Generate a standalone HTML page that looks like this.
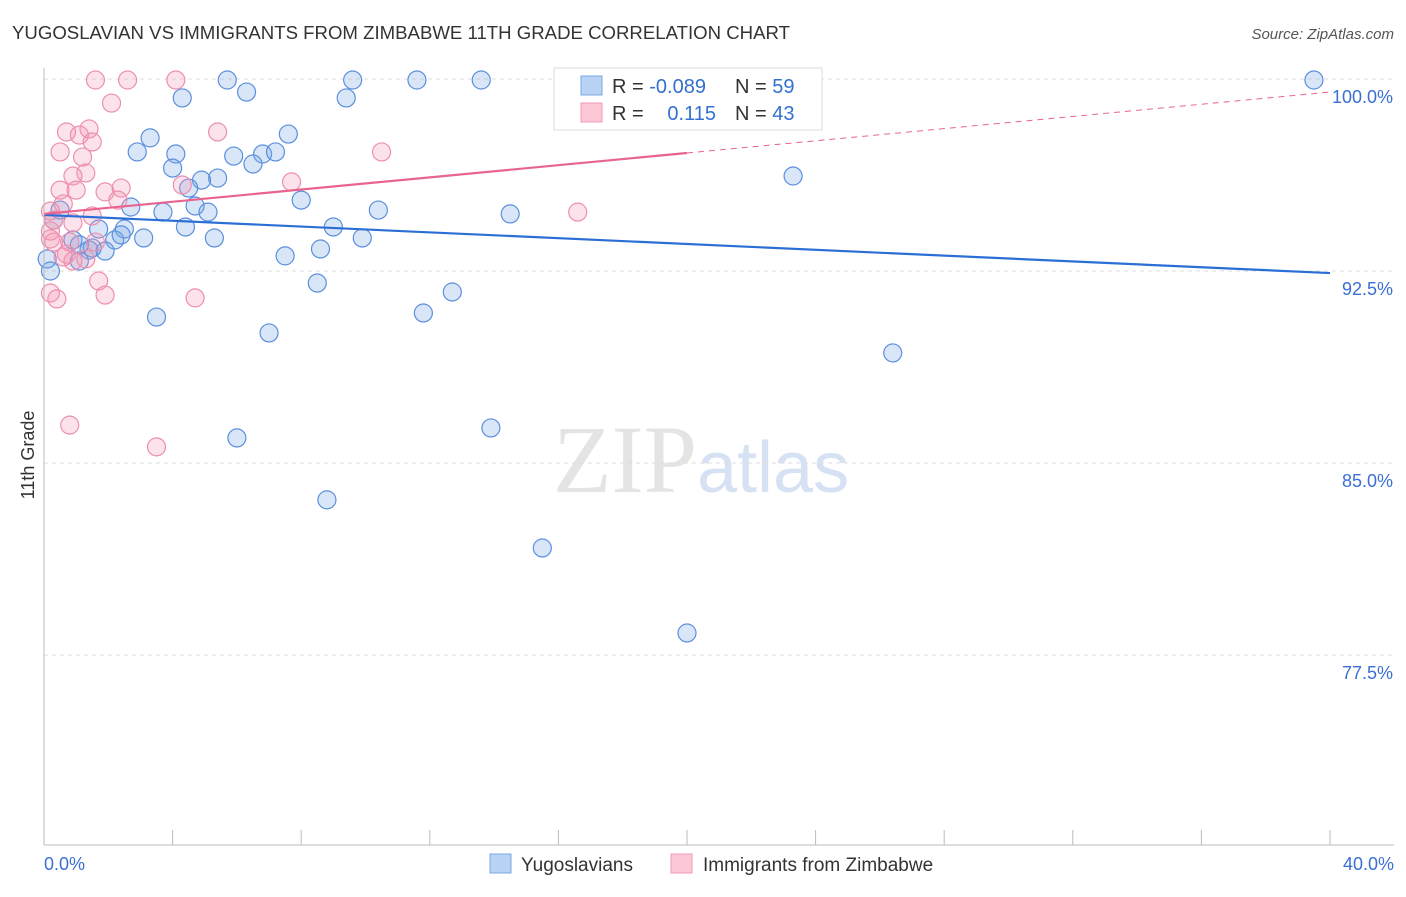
<!DOCTYPE html>
<html><head><meta charset="utf-8"><style>
body{margin:0;background:#fff;font-family:"Liberation Sans",sans-serif}
</style></head><body>
<svg id="c" width="1406" height="892" xmlns="http://www.w3.org/2000/svg" font-family="Liberation Sans, sans-serif">
<text x="12" y="39" font-size="18" fill="#333" textLength="778" lengthAdjust="spacingAndGlyphs">YUGOSLAVIAN VS IMMIGRANTS FROM ZIMBABWE 11TH GRADE CORRELATION CHART</text>
<text x="1394" y="39" font-size="15" fill="#555" text-anchor="end" font-style="italic">Source: ZipAtlas.com</text>
<text x="553" y="492" font-size="96" font-family="Liberation Serif, serif" fill="#e4e4e4">ZIP<tspan fill="#d6e2f3" font-family="Liberation Sans, sans-serif" font-size="72">atlas</tspan></text>
<text transform="translate(34,455) rotate(-90)" font-size="18" fill="#333" text-anchor="middle">11th Grade</text>
<g id="grid"></g><g id="pts"></g><g id="lines"></g>
<line x1="44" y1="68" x2="44" y2="845" stroke="#bbb"/>
<line x1="44" y1="845" x2="1394" y2="845" stroke="#bbb"/>
<g>
<rect x="554" y="68" width="268" height="62" fill="#fff" stroke="#ddd"/>
<rect x="581" y="76" width="21" height="19" fill="#b9d3f5" stroke="#7aa7e6"/>
<rect x="581" y="103" width="21" height="19" fill="#fcc8d6" stroke="#f09ab3"/>
<text x="612" y="93" font-size="20" fill="#333">R = <tspan fill="#3370d0">-0.089</tspan></text>
<text x="735" y="93" font-size="20" fill="#333">N = <tspan fill="#3370d0">59</tspan></text>
<text x="612" y="120" font-size="20" fill="#333">R = </text>
<text x="716" y="120" font-size="20" fill="#3370d0" text-anchor="end">0.115</text>
<text x="735" y="120" font-size="20" fill="#333">N = <tspan fill="#3370d0">43</tspan></text>
</g>
<g>
<rect x="490" y="854" width="21" height="19" fill="#b9d3f5" stroke="#7aa7e6"/>
<text x="521" y="871" font-size="19" fill="#333">Yugoslavians</text>
<rect x="671" y="854" width="21" height="19" fill="#fcc8d6" stroke="#f09ab3"/>
<text x="703" y="871" font-size="19" fill="#333">Immigrants from Zimbabwe</text>
</g>
</svg>
<script>
const yTicks=[100,92.5,85,77.5];
const yTickLabels=["100.0%","92.5%","85.0%","77.5%"];
const xTickLabels=["0.0%","40.0%"];
const blueX=[5.7,9.6,11.6,13.6,39.5,4.3,6.3,9.4,3.3,7.6,2.9,4.1,5.9,6.8,7.2,6.5,4.0,5.4,4.9,4.5,23.3,8.0,2.7,4.7,3.7,5.1,10.4,14.5,0.3,9.0,1.7,2.5,0.9,2.2,3.1,5.3,9.9,1.4,1.9,1.5,8.6,7.5,1.1,8.5,12.7,3.5,11.8,7.0,26.4,6.0,13.9,8.8,15.5,20.0,0.1,0.5,1.1,4.4,0.2,2.4];
const blueY=[99.96,99.96,99.96,99.96,99.96,99.26,99.49,99.26,97.70,97.85,97.15,97.07,96.99,97.07,97.15,96.68,96.52,96.13,96.05,95.74,96.21,95.27,95.00,95.04,94.80,94.80,94.88,94.73,94.49,94.22,94.14,94.14,93.71,93.71,93.79,93.79,93.79,93.32,93.28,93.40,93.36,93.09,92.89,92.03,91.68,90.70,90.86,90.08,89.30,85.98,86.37,83.56,81.68,78.36,92.97,94.88,93.52,94.22,92.50,93.91];
const pinkX=[1.6,2.6,4.1,2.1,0.7,1.1,1.4,5.4,1.5,0.5,10.5,1.2,1.3,0.9,4.3,7.7,0.5,1.0,1.9,2.4,2.3,0.6,0.2,0.9,16.6,0.2,0.3,1.6,0.7,0.9,1.7,1.9,4.7,0.2,0.4,0.8,3.5,0.2,1.3,0.6,0.3,1.5,0.8];
const pinkY=[99.96,99.96,99.96,99.06,97.93,97.81,98.05,97.93,97.54,97.15,97.15,96.95,96.33,96.21,95.86,95.98,95.66,95.66,95.59,95.74,95.27,95.12,94.84,94.38,94.80,93.75,93.63,93.63,93.16,92.89,92.11,91.56,91.45,91.64,91.41,86.48,85.63,94.06,92.97,93.05,94.49,94.65,93.63];
const blueTrend=[94.69,92.42];
const pinkTrend=[94.73,99.49];
const NS="http://www.w3.org/2000/svg";
const X=v=>44+v/40*1286, Y=v=>79+(100-v)*25.6;
function mk(t,a,p){const e=document.createElementNS(NS,t);for(const k in a)e.setAttribute(k,a[k]);document.getElementById(p).appendChild(e);return e;}
yTicks.forEach((t,i)=>{
 const l=mk('line',{x1:44,x2:1394,y1:Y(t),y2:Y(t),stroke:'#ddd','stroke-dasharray':'4,4'},'grid');
 
 
 const tx=mk('text',{x:1393,y:Y(t)+24,'font-size':18,fill:'#3b6fd4','text-anchor':'end'},'grid');
 tx.textContent=yTickLabels[i];
 
 
});
for(let i=0;i<=10;i++){
 const l=mk('line',{x1:X(i*4),x2:X(i*4),y1:830,y2:845,stroke:'#bbb'},'grid');
 
 
}
[[0,'start',44],[40,'end',1394]].forEach((d,i)=>{
 const tx=mk('text',{x:d[2],y:870,'font-size':18,fill:'#3b6fd4','text-anchor':d[1]},'grid');
 tx.textContent=xTickLabels[i];
 
 
});
blueX.forEach((v,i)=>{
 const c=mk('circle',{cx:X(v),cy:Y(blueY[i]),r:9,fill:'rgba(120,165,230,0.28)',stroke:'#5b8fdd','stroke-width':1.2},'pts');
 
 
});
pinkX.forEach((v,i)=>{
 const c=mk('circle',{cx:X(v),cy:Y(pinkY[i]),r:9,fill:'rgba(245,150,180,0.28)',stroke:'#ec8fae','stroke-width':1.2},'pts');
 
 
});
let b=mk('line',{x1:X(0),y1:Y(blueTrend[0]),x2:X(40),y2:Y(blueTrend[1]),stroke:'#2b6fd6','stroke-width':2.2},'lines');


const pm=pinkTrend[0]+(pinkTrend[1]-pinkTrend[0])*0.5;
let p1=mk('line',{x1:X(0),y1:Y(pinkTrend[0]),x2:X(20),y2:Y(pm),stroke:'#e8648e','stroke-width':2.2},'lines');


let p2=mk('line',{x1:X(20),y1:Y(pm),x2:X(40),y2:Y(pinkTrend[1]),stroke:'#e8648e','stroke-width':1,'stroke-dasharray':'6,5'},'lines');


</script>
</body></html>
